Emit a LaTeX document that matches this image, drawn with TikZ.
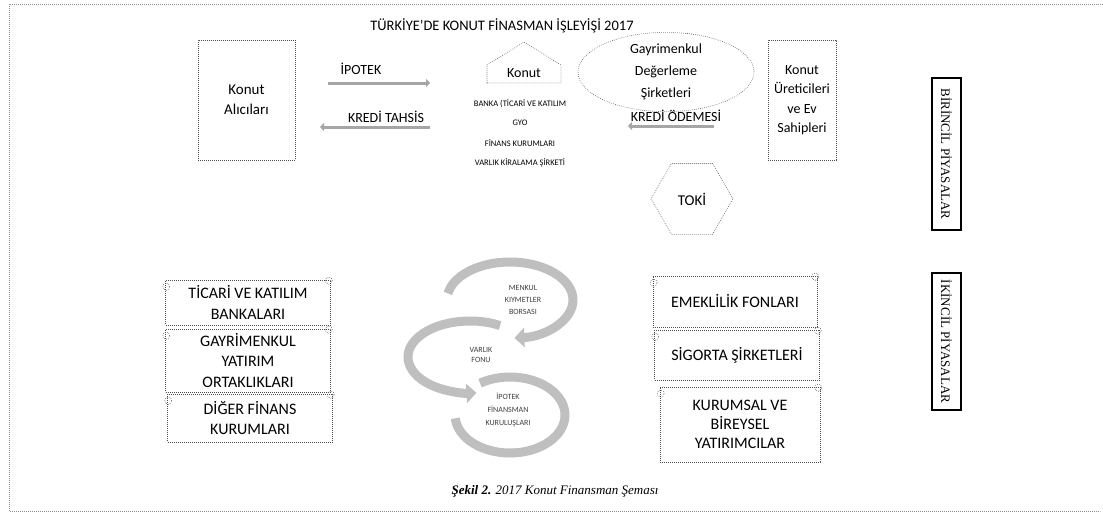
\documentclass[tikz,border=0pt]{standalone}
\usepackage{fontspec}
\setmainfont{Carlito}
\newfontfamily\capserif{Liberation Serif}
\usetikzlibrary{arrows.meta,shapes.geometric}

\begin{document}
\begin{tikzpicture}[x=1pt,y=-1pt,
  dotbox/.style={draw=black!70, dash pattern=on 0.6pt off 1.4pt, line width=0.6pt},
  lbl/.style={font=\fontsize{14}{20}\selectfont, align=center, inner sep=0pt},
  small/.style={font=\fontsize{8.5}{10}\selectfont, inner sep=0pt},
  tiny/.style={font=\fontsize{8}{12}\selectfont, align=center, text=black!75, inner sep=0pt},
  banner/.style={dotbox, align=center, inner sep=0pt, font=\fontsize{16}{20.5}\selectfont},
  market/.style={draw, line width=1.3pt, rotate=-90, inner sep=0pt,
    minimum height=29pt, font=\capserif\fontsize{13}{15}\selectfont},
  flow/.style={draw=gray!70, line width=3pt, -{Triangle[width=8pt,length=4pt]}},
  loopband/.style={draw=gray!50, line width=9pt}
]
  \useasboundingbox (0,0) rectangle (1103,523);

  % page frame
  \draw[dotbox, draw=black!45] (1103,4) -- (9,4) -- (9,511) -- (1100,511);

  % title
  \node[font=\fontsize{14.5}{16}\selectfont] (title) at (502,26) {TÜRKİYE'DE KONUT FİNASMAN İŞLEYİŞİ 2017};

  % primary market
  \node[dotbox, lbl, font=\fontsize{15}{20}\selectfont, minimum width=97pt, minimum height=120pt]
    (alici) at (246.5,100) {Konut\\Alıcıları};
  \node[lbl] (ipotek) at (361,69) {İPOTEK};
  \node[lbl] (tahsis) at (386,117) {KREDİ TAHSİS};
  \node[lbl] (odeme) at (676,116) {KREDİ ÖDEMESİ};

  \coordinate (ipA) at (328,83);
  \coordinate (ipB) at (430,83);
  \coordinate (thA) at (430,127);
  \coordinate (thB) at (320,127);
  \coordinate (odA) at (714,126);
  \coordinate (odB) at (628,126);
  \draw[flow] (ipA) -- (ipB);
  \draw[flow] (thA) -- (thB);
  \draw[flow] (odA) -- (odB);

  % house
  \node[lbl] (konut) at (524,73) {Konut};
  \draw[dotbox] (487,83) -- (487,65) -- (524,42) -- (561,65) -- (561,83) -- cycle;

  \node[small] (banka) at (520,104) {BANKA (TİCARİ VE KATILIM};
  \node[small] (gyo) at (520,123) {GYO};
  \node[small] (finans) at (520,143) {FİNANS KURUMLARI};
  \node[small] (varlik) at (520,163) {VARLIK KİRALAMA ŞİRKETİ};

  \node[dotbox, ellipse, lbl, font=\fontsize{14}{22}\selectfont, minimum width=176pt, minimum height=62pt]
    (degerleme) at (666,72) {Gayrimenkul\\Değerleme\\Şirketleri};

  \node[dotbox, lbl, font=\fontsize{14}{19.5}\selectfont, minimum width=68pt, minimum height=120pt]
    (uretici) at (802,100) {Konut\\Üreticileri\\ve Ev\\Sahipleri};

  \node[dotbox, regular polygon, regular polygon sides=6, minimum size=82pt, inner sep=0pt,
    font=\fontsize{15}{18}\selectfont] (toki) at (692,199) {TOKİ};

  % market labels
  \node[market, minimum width=152pt] (birincil) at (946.5,154) {BİRİNCİL PİYASALAR};
  \node[market, minimum width=137pt] (ikincil) at (946.5,341.5) {İKİNCİL PİYASALAR};

  % secondary market, left
  \node[banner, minimum width=165pt, minimum height=45pt] (ticari) at (248,302.5) {TİCARİ VE KATILIM\\BANKALARI};
  \node[banner, minimum width=165pt, minimum height=63pt] (gyortak) at (248,360.5) {GAYRİMENKUL\\YATIRIM\\ORTAKLIKLARI};
  \node[banner, minimum width=165pt, minimum height=48pt] (diger) at (250,418) {DİĞER FİNANS\\KURUMLARI};

  % secondary market, right
  \node[banner, minimum width=164pt, minimum height=51pt] (emeklilik) at (735,301.5) {EMEKLİLİK FONLARI};
  \node[banner, minimum width=165pt, minimum height=50pt] (sigorta) at (737,355) {SİGORTA ŞİRKETLERİ};
  \node[banner, minimum width=160pt, minimum height=75pt, font=\fontsize{16}{19}\selectfont]
    (kurumsal) at (740,424.5) {KURUMSAL VE\\BİREYSEL\\YATIRIMCILAR};

  \foreach \b in {ticari,gyortak,diger,emeklilik,sigorta,kurumsal} {
    \draw[dotbox] ([shift={(-2,1)}]\b.north east) circle[radius=3.5pt];
    \draw[dotbox] ([shift={(1,7)}]\b.north west) circle[radius=3.5pt];
  }

  % S shaped cycle
  \coordinate (c1) at (510,300);
  \coordinate (c2) at (470,357);
  \coordinate (c3) at (510,415);
  \draw[loopband, -{Triangle[width=19pt,length=10pt]}]
    (c1) ++(190:63 and 38) arc[start angle=190, end angle=446, x radius=63, y radius=38];
  \draw[loopband, -{Triangle[width=19pt,length=10pt]}]
    (c2) ++(299:62 and 36) arc[start angle=299, end angle=84, x radius=62, y radius=36];
  \draw[loopband]
    (c3) ++(237:55 and 38) arc[start angle=237, end angle=535, x radius=55, y radius=38];

  \node[tiny] (borsa) at (523,300) {MENKUL\\KIYMETLER\\BORSASI};
  \node[tiny, font=\fontsize{8}{10}\selectfont] (varlikfonu) at (481,355) {VARLIK\\FONU};
  \node[tiny, font=\fontsize{8}{13}\selectfont] (ipotekfin) at (508,410) {İPOTEK\\FİNANSMAN\\KURULUŞLARI};

  % caption
  \node[font=\capserif\itshape\fontsize{13}{15}\selectfont] (sekil) at (555,491)
    {\textbf{Şekil 2.} 2017 Konut Finansman Şeması};
\end{tikzpicture}
\end{document}
